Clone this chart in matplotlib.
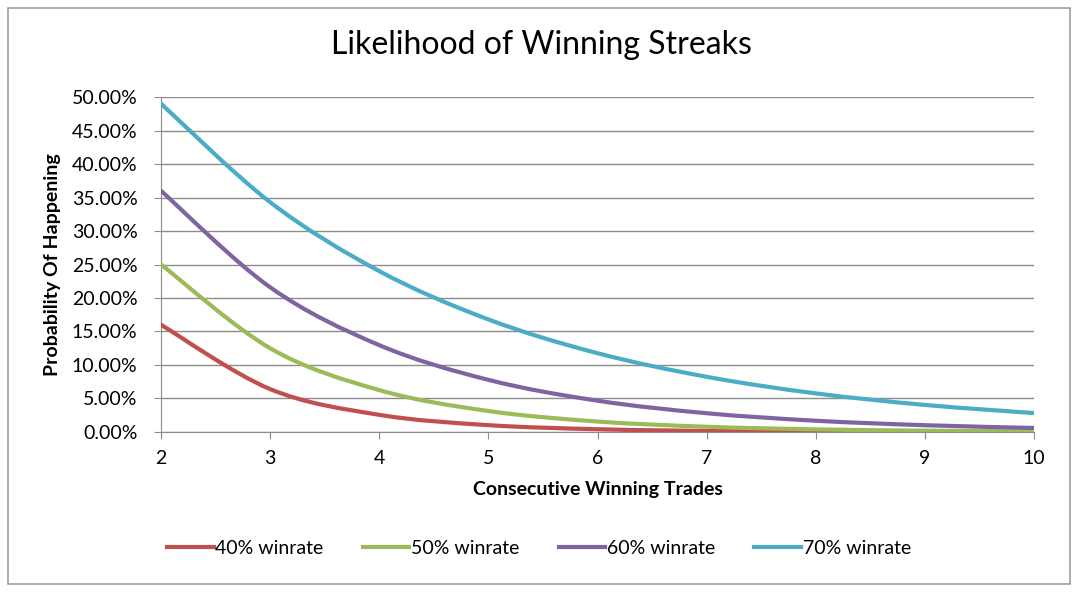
import numpy as np
import matplotlib
matplotlib.use('Agg')
import matplotlib.pyplot as plt
from matplotlib.path import Path
from matplotlib.patches import PathPatch, Rectangle
from matplotlib.lines import Line2D
from matplotlib.ticker import FuncFormatter, MultipleLocator


# --------------------------- DATA -------------------------------
streak = [2, 3, 4, 5, 6, 7, 8, 9, 10]
win_40 = [0.16, 0.064, 0.0256, 0.0102, 0.0041, 0.0016, 0.00066, 0.00026, 0.0001]
win_50 = [0.25, 0.125, 0.0625, 0.0313, 0.0156, 0.0078, 0.0039, 0.00195, 0.00098]
win_60 = [0.36, 0.216, 0.1296, 0.0778, 0.0467, 0.028, 0.0168, 0.0101, 0.006]
win_70 = [0.49, 0.343, 0.2401, 0.168, 0.1176, 0.0824, 0.0576, 0.0404, 0.0282]
labels = ['40% winrate', '50% winrate', '60% winrate', '70% winrate']
colors = ['#C0504D', '#9BBB59', '#8064A2', '#4BACC6']


# --------------------------- FUNCTIONS -------------------------------
def smooth_path(x, y):
    # Excel-like smoothed line: cubic bezier through every point
    pts = np.column_stack([x, y]).astype(float)
    ext = np.vstack([pts[0], pts, pts[-1]])
    verts = [pts[0]]
    codes = [Path.MOVETO]
    for i in range(len(pts) - 1):
        p0, p1, p2, p3 = ext[i], ext[i + 1], ext[i + 2], ext[i + 3]
        c1 = p1 + (p2 - p0) / 6
        c2 = p2 - (p3 - p1) / 6
        verts += [c1, c2, p2]
        codes += [Path.CURVE4] * 3
    return Path(verts, codes)


plt.rcParams['font.family'] = ['Lato', 'DejaVu Sans']

fig = plt.figure(figsize=(10.78, 5.92), dpi=100)
ax = fig.add_axes([0.1494, 0.2703, 0.8098, 0.5658])

for series, col, lab in zip([win_40, win_50, win_60, win_70], colors, labels):
    ax.add_patch(PathPatch(smooth_path(streak, series), fill=False, edgecolor=col,
                           linewidth=3, capstyle='round', joinstyle='round', zorder=3))

ax.set_xlim(2, 10)
ax.set_ylim(0, 0.5)
ax.xaxis.set_major_locator(MultipleLocator(1))
ax.yaxis.set_major_locator(MultipleLocator(0.05))
ax.yaxis.set_major_formatter(FuncFormatter(lambda v, p: '%.2f%%' % (v * 100)))
ax.grid(axis='y', color='#8C8C8C', linewidth=1)
ax.set_axisbelow(True)
for side in ['top', 'right']:
    ax.spines[side].set_visible(False)
for side in ['left', 'bottom']:
    ax.spines[side].set_color('#8C8C8C')
ax.tick_params(axis='both', colors='#8C8C8C', labelcolor='black', labelsize=14, length=5, direction='out')
ax.tick_params(axis='x', pad=8)
ax.tick_params(axis='y', pad=12)

ax.set_xlabel('Consecutive Winning Trades', fontsize=14, fontweight='bold', labelpad=10)
ax.set_ylabel('Probability Of Happening', fontsize=14, fontweight='bold', labelpad=8)
fig.text(0.502, 0.924, 'Likelihood of Winning Streaks', fontsize=23, ha='center', va='center')

handles = [Line2D([], [], color=c, linewidth=3) for c in colors]
fig.legend(handles, labels, loc='center', bbox_to_anchor=(0.5, 0.073), ncol=4, frameon=False,
           fontsize=14, handlelength=2.4, handletextpad=0.1, columnspacing=2.0)

fig.patches.append(Rectangle((0.0075, 0.0135), 0.985, 0.973, transform=fig.transFigure,
                             fill=False, edgecolor='#A0A0A0', linewidth=1.2))

fig.savefig('out.png', dpi=100)
